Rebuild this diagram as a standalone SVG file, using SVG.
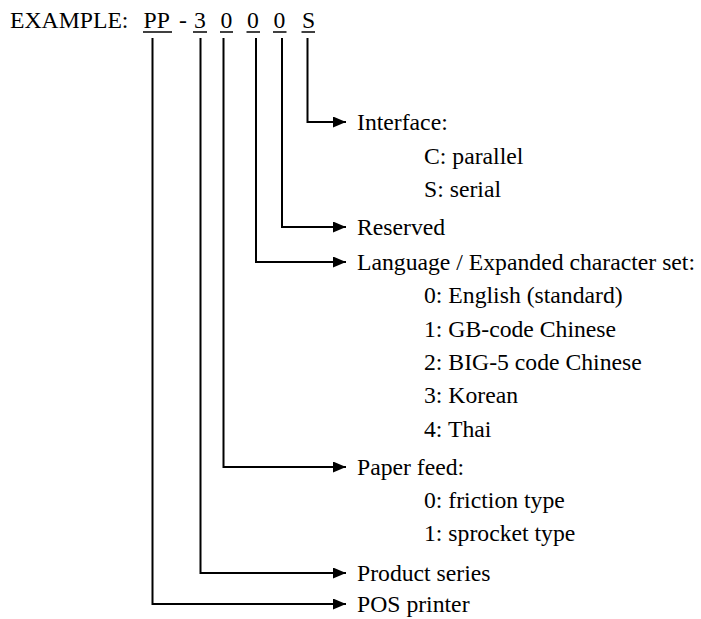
<svg xmlns="http://www.w3.org/2000/svg" width="701" height="619" viewBox="0 0 701 619">
<style>
.t text{font-family:'Liberation Serif','Tinos','Times New Roman','DejaVu Serif',serif;font-size:23.7px;fill:#000}
.u{stroke:#000;stroke-width:1.5}
.c{fill:none;stroke:#000;stroke-width:2}
</style>
<defs>
<marker id="ah" markerUnits="userSpaceOnUse" markerWidth="13" markerHeight="11" refX="13" refY="5.5" orient="auto" viewBox="0 0 13 11">
<path d="M0,0 L13,5.5 L0,11 z" fill="#000"/>
</marker>
</defs>
<rect width="701" height="619" fill="#fff"/>
<g class="t" font-family="Liberation Serif, serif">
<g id="header">
<text x="10" y="28">EXAMPLE:</text>
<text x="143.5" y="28">PP</text>
<text x="179" y="28">-</text>
<text x="194" y="28">3</text>
<text x="220.5" y="28">0</text>
<text x="247" y="28">0</text>
<text x="273.5" y="28">0</text>
<text x="302" y="28">S</text>
<line class="u" x1="143" y1="32" x2="172" y2="32"/>
<line class="u" x1="193" y1="32" x2="207" y2="32"/>
<line class="u" x1="220" y1="32" x2="233" y2="32"/>
<line class="u" x1="246.5" y1="32" x2="260" y2="32"/>
<line class="u" x1="273" y1="32" x2="286.5" y2="32"/>
<line class="u" x1="301.5" y1="32" x2="315" y2="32"/>
</g>
<g id="connectors">
<path class="c" d="M307.5,38 V122 H346" marker-end="url(#ah)"/>
<path class="c" d="M282,38 V227 H346" marker-end="url(#ah)"/>
<path class="c" d="M256,38 V262 H346" marker-end="url(#ah)"/>
<path class="c" d="M223.5,38 V467 H346" marker-end="url(#ah)"/>
<path class="c" d="M200.5,38 V573 H346" marker-end="url(#ah)"/>
<path class="c" d="M152.5,38 V604 H346" marker-end="url(#ah)"/>
</g>
<g id="interface">
<text x="357" y="130">Interface:</text>
<text x="424" y="164">C: parallel</text>
<text x="424" y="197">S: serial</text>
</g>
<g id="reserved">
<text x="357" y="235">Reserved</text>
</g>
<g id="language">
<text x="357" y="270">Language / Expanded character set:</text>
<text x="424" y="303">0: English (standard)</text>
<text x="424" y="337">1: GB-code Chinese</text>
<text x="424" y="370">2: BIG-5 code Chinese</text>
<text x="424" y="403">3: Korean</text>
<text x="424" y="437">4: Thai</text>
</g>
<g id="paperfeed">
<text x="357" y="475">Paper feed:</text>
<text x="424" y="508">0: friction type</text>
<text x="424" y="541">1: sprocket type</text>
</g>
<g id="product">
<text x="357" y="581">Product series</text>
</g>
<g id="pos">
<text x="357" y="612">POS printer</text>
</g>
</g>
</svg>
